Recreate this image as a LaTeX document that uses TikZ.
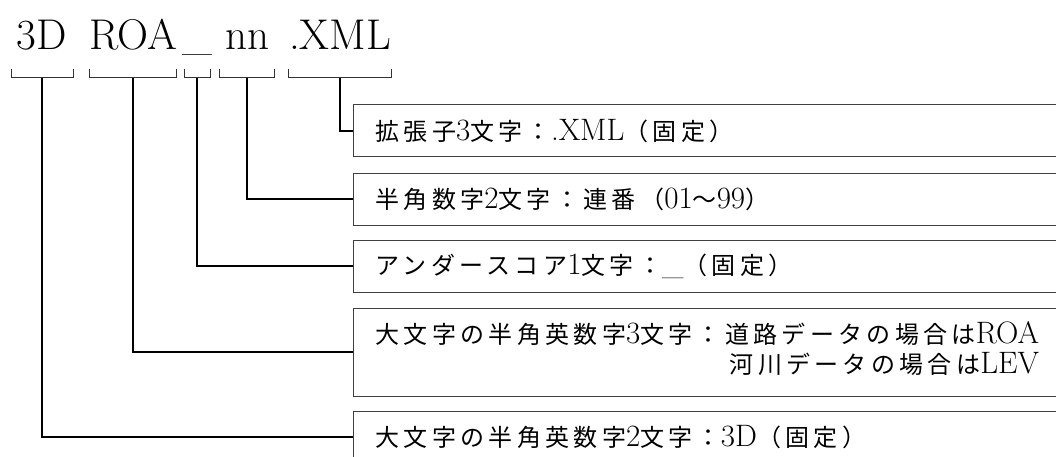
\documentclass[tikz,border=0pt]{standalone}
\usepackage{fontspec}
\newfontfamily\cjk[LetterSpace=18]{Noto Sans CJK JP}
\newcommand{\en}[1]{{\rmfamily\fontsize{31}{29}\selectfont #1}}
\usetikzlibrary{positioning}

\tikzset{
    part/.style={font=\fontsize{43}{43}\selectfont, anchor=base, inner sep=0pt},
    brace/.style={line width=1pt, draw=black!80},
    link/.style={line width=1.5pt},
    info/.style={draw=black!75, line width=1pt, anchor=west, inner xsep=22pt, inner ysep=0pt,
        minimum width=760, minimum height=52, text width=716, align=left,
        font=\fontsize{24}{29}\selectfont\cjk},
}

\begin{document}
\begin{tikzpicture}[x=1pt, y=1pt]
            \useasboundingbox (0,0) rectangle (1056,-457);

            % file name parts
            \node[part] (p3d) at (42,-50) {3D};
            \node[part] (proa) at (133,-50) {ROA};
            \node[part] (pus) at (197,-50) {\_};
            \node[part] (pnn) at (247,-50) {nn};
            \node[part] (pxml) at (340,-50) {.XML};

            % brackets under the parts
            \foreach \c/\x/\w in {b3d/42/31, broa/133/43.5, bus/197/13, bnn/247/27.5, bxml/340/51.5} {
                \coordinate (\c) at (\x,-78);
                \draw[brace] ([shift={(-\w,9)}]\c) |- ([xshift=\w]\c) -- ++(0,9);
            }

            % explanation boxes
            \node[info] (nxml) at (353,-131) {拡張子\en{3}文字：\en{.XML}（固定）};
            \node[info] (nnn) at (353,-199) {半角数字\en{2}文字：連番（\en{01}～\en{99}）};
            \node[info] (nus) at (353,-266) {アンダースコア\en{1}文字：\en{\_}（固定）};
            \node[info, minimum height=88] (nroa) at (353,-352) {\begin{tabular}{@{}r@{}}
                    大文字の半角英数字\en{3}文字：道路データの場合は\en{ROA}\\
                    河川データの場合は\en{LEV}
                \end{tabular}};
            \node[info] (n3d) at (353,-437) {大文字の半角英数字\en{2}文字：\en{3D}（固定）};

            \draw[link] (bxml) |- (nxml.west);
            \draw[link] (bnn) |- (nnn.west);
            \draw[link] (bus) |- (nus.west);
            \draw[link] (broa) |- (nroa.west);
            \draw[link] (b3d) |- (n3d.west);
        \end{tikzpicture}
\end{document}
